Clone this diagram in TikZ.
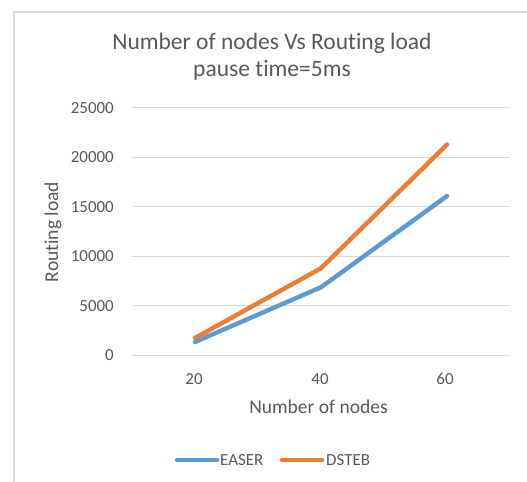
\documentclass[tikz,border=0pt]{standalone}
\usepackage{fontspec}
\setmainfont{Carlito}[Ligatures=NoCommon]
\definecolor{txt}{HTML}{595959}
\definecolor{grid}{HTML}{D9D9D9}
\definecolor{easer}{HTML}{5B9BD5}
\definecolor{dsteb}{HTML}{ED7D31}
\tikzset{
  frame/.style={draw=grid, line width=1.3bp},
  gridline/.style={draw=grid, line width=1bp},
  series/.style={line width=4.4bp, line cap=round, line join=round},
  ticklabel/.style={text=txt, font=\fontsize{17}{20}\selectfont, inner sep=0pt},
  axistitle/.style={text=txt, font=\fontsize{19.6}{23}\selectfont, inner sep=0pt},
  charttitle/.style={text=txt, font=\fontsize{23.6}{28}\selectfont, inner sep=0pt},
}
\begin{document}
\begin{tikzpicture}[x=1bp, y=-1bp]
\useasboundingbox (0,0) rectangle (527,482);
\fill[white] (0,0) rectangle (527,482);
% chart frame (left and top edges)
\draw[frame] (14,482) -- (14,12) -- (527,12);

% title (kerns keep the t and i glyphs separate)
\node[charttitle, anchor=base] (t1) at (272,50) {Number of nodes Vs Rout\kern0pt ing load};
\node[charttitle, anchor=base] (t2) at (272,77) {pause t\kern0pt ime=5ms};

% value axis: gridlines and labels (9.892 bp per 1000, upwards)
\begin{scope}[shift={(0,355.3)}, y=9.892bp]
  \foreach \v/\lab in {0/0, 5/5000, 10/10000, 15/15000, 20/20000, 25/25000} {
    \draw[gridline] (132,\v) -- (510,\v);
    \node[ticklabel, anchor=east] (y\v) at (114,\v) {\lab};
  }
  % data points (values in thousands)
  \coordinate (e20) at (195,1.35);
  \coordinate (e40) at (321,6.88);
  \coordinate (e60) at (447,16.1);
  \coordinate (d20) at (195,1.75);
  \coordinate (d40) at (321,8.8);
  \coordinate (d60) at (447,21.3);
\end{scope}

% series
\draw[series, easer] (e20) -- (e40) -- (e60);
\draw[series, dsteb] (d20) -- (d40) -- (d60);

% category axis labels
\node[ticklabel] (x20) at (194,379) {20};
\node[ticklabel] (x40) at (320,379) {40};
\node[ticklabel] (x60) at (445,379) {60};

% axis titles
\node[axistitle, anchor=base] (xt) at (318.5,413) {Number of nodes};
\node[axistitle, rotate=90] (yt) at (53,232) {Rout\kern0pt ing load};

% legend
\coordinate (le1) at (177,460);
\coordinate (le2) at (217,460);
\coordinate (ld1) at (282,460);
\coordinate (ld2) at (322,460);
\draw[series, easer] (le1) -- (le2);
\node[ticklabel, anchor=west] (leasere) at (220,460) {EASER};
\draw[series, dsteb] (ld1) -- (ld2);
\node[ticklabel, anchor=west] (ldsteb) at (326,460) {DSTEB};
\end{tikzpicture}
\end{document}
